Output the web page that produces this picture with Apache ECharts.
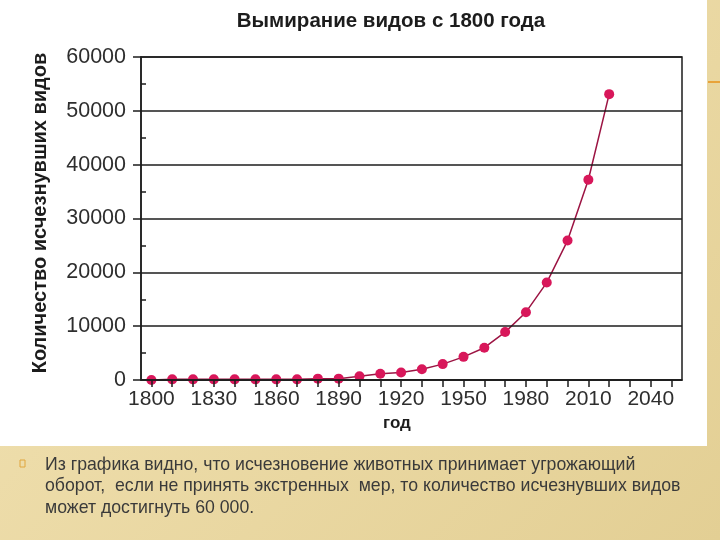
<!DOCTYPE html>
<html>
<head>
<meta charset="utf-8">
<script src="https://cdn.jsdelivr.net/npm/echarts@6/dist/echarts.min.js"></script>
<style>
html,body{margin:0;padding:0;}
body{background:linear-gradient(135deg,#f3e4b6 0%,#e3cf94 100%);width:720px;height:540px;position:relative;overflow:hidden;}
#white{position:absolute;left:0;top:0;width:707px;height:446px;background:#ffffff;}
#accent{position:absolute;left:708px;top:81px;width:12px;height:2px;background:#e8a33a;}
#chart{position:absolute;left:0;top:0;width:720px;height:540px;}
</style>
</head>
<body>
<div id="white"></div>
<div id="accent"></div>
<div id="chart"></div>
<script>
// ---- data ----
var years = [1800,1810,1820,1830,1840,1850,1860,1870,1880,1890,1900,1910,1920,1930,1940,1950,1960,1970,1980,1990,2000,2010,2020];
var extinct = [0,120,120,120,120,120,120,120,250,250,700,1150,1400,2000,2950,4300,6000,8900,12600,18100,25900,37200,53100];
var xTicks = [1800,1810,1820,1830,1840,1850,1860,1870,1880,1890,1900,1910,1920,1930,1940,1950,1960,1970,1980,1990,2000,2010,2020,2030,2040,2050];
var xLabels = [1800,1830,1860,1890,1920,1950,1980,2010,2040];
var yMinorTicks = [5000,15000,25000,35000,45000,55000];
var titleText = 'Вымирание видов с 1800 года';
var yName = 'Количество исчезнувших видов';
var xName = 'год';
var bodyLines = [
  'Из графика видно, что исчезновение животных принимает угрожающий',
  'оборот,  если не принять экстренных  мер, то количество исчезнувших видов',
  'может достигнуть 60 000.'
];

var chart = echarts.init(document.getElementById('chart'), null, {renderer:'canvas'});
var points = years.map(function(y,i){ return [y, extinct[i]]; });
var ink = '#1c1c1c';
var font = "'Liberation Sans', Arial, sans-serif";
var plain = function(v){ return String(v); };

var elements = [
  // cover lower halves of near-zero markers (as in the original's clipped plot)
  {type:'rect', silent:true, shape:{x:142,y:381,width:539,height:14}, style:{fill:'#ffffff'}},
  {type:'text', x:391, y:21, style:{text:titleText, font:'bold 20.5px '+font, fill:ink, align:'center', verticalAlign:'middle'}},
  {type:'text', rotation:Math.PI/2, x:40, y:213, style:{text:yName, font:'bold 20px '+font, fill:ink, align:'center', verticalAlign:'middle'}},
  {type:'text', x:397, y:423, style:{text:xName, font:'bold 17px '+font, fill:ink, align:'center', verticalAlign:'middle'}},
  {type:'rect', shape:{x:20,y:460,width:5,height:7}, style:{fill:'none', stroke:'#e0a63c', lineWidth:1}}
];
bodyLines.forEach(function(t,i){
  elements.push({type:'text', x:45, y:465+i*21.5, style:{text:t, font:'17.7px '+font, fill:'#3a3a3a', align:'left', verticalAlign:'middle'}});
});

chart.setOption({
  animation:false,
  backgroundColor:'transparent',
  grid:{left:141, right:38, top:57, bottom:160, show:true, borderColor:ink, borderWidth:1.5, backgroundColor:'transparent'},
  xAxis:{
    type:'value', min:1795, max:2055, z:120,
    axisLine:{show:true, onZero:false, lineStyle:{color:ink, width:1.5}},
    axisTick:{show:true, customValues:xTicks, length:7, lineStyle:{color:ink, width:1.5}},
    axisLabel:{customValues:xLabels, formatter:plain, fontSize:21, color:'#2e2e2e', margin:9, fontFamily:font},
    splitLine:{show:false}
  },
  yAxis:[{
    type:'value', min:0, max:60000, interval:10000, z:120,
    axisLine:{show:true, lineStyle:{color:ink, width:1.5}},
    axisTick:{show:true, length:8, lineStyle:{color:ink, width:1.5}},
    axisLabel:{formatter:plain, fontSize:21.5, color:'#2e2e2e', margin:15, fontFamily:font},
    splitLine:{show:true, lineStyle:{color:ink, width:1.5}}
  },{
    type:'value', min:0, max:60000, position:'left', z:120,
    axisLine:{show:false},
    axisTick:{show:true, inside:true, length:5, customValues:yMinorTicks, lineStyle:{color:ink, width:1.5}},
    axisLabel:{show:false},
    splitLine:{show:false}
  }],
  series:[{
    type:'line', data:points, z:2,
    symbol:'circle', symbolSize:10,
    itemStyle:{color:'#d8175a'},
    lineStyle:{color:'#9c1443', width:1.5},
    clip:false
  }],
  graphic:{z:100, elements:elements}
});
</script>
</body>
</html>
